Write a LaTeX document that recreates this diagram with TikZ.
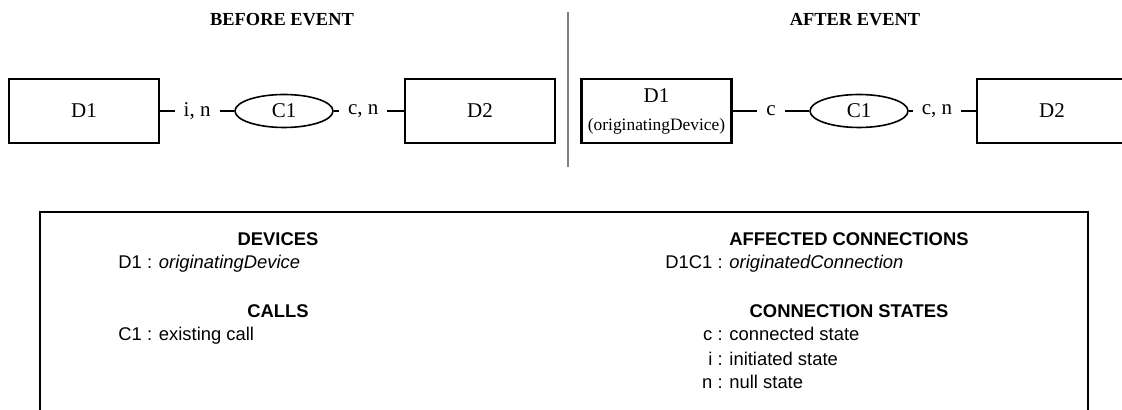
\documentclass[tikz,border=0pt]{standalone}
\usepackage{fontspec}
\setmainfont{Liberation Serif}
\setsansfont{Liberation Sans}
\usetikzlibrary{shapes.geometric, positioning}
\tikzset{
	device/.style={rectangle, draw, line width=1.1pt, align=center, minimum width=75pt, minimum height=32pt, inner sep=0pt, font=\fontsize{10.5}{14}\selectfont},
	call/.style={ellipse, draw, line width=0.8pt, minimum width=49pt, minimum height=16.5pt, inner sep=0pt, font=\fontsize{10.5}{12}\selectfont},
	link/.style={line width=1pt},
	state/.style={fill=white, inner xsep=4.5pt, inner ysep=1pt, font=\fontsize{10.5}{12}\selectfont}
}

\begin{document}
\begin{tikzpicture}[
        x=0.5pt, y=-0.5pt,
        title/.style={font=\bfseries\fontsize{9.2}{11}\selectfont},
        leghead/.style={font=\sffamily\bfseries\fontsize{9.2}{11}\selectfont},
        legtext/.style={font=\sffamily\fontsize{9.2}{11}\selectfont, anchor=base west, inner sep=0pt}
    ]
        \useasboundingbox (0,0) rectangle (1122,410);

        \node[title] (before) at (282,20) {BEFORE EVENT};
        \node[title] (after) at (855,20) {AFTER EVENT};
        \draw[gray, line width=0.75pt] (568,12) -- (568,167);

        \node[device] (bD1) at (84,111) {D1};
        \node[call] (bC1) at (284,111) {C1};
        \node[device] (bD2) at (480,111) {D2};

        \node[device] (aD1) at (656.5,111) {D1\\{\fontsize{8.7}{14}\selectfont (originatingDevice)}};
        \node[call] (aC1) at (859,111) {C1};
        \node[device] (aD2) at (1052,111) {D2};

        \draw[link] (bD1) -- node[state] {i, n} (bC1);
        \draw[link] (bC1) -- node[state, pos=0.42] {c, n} (bD2);
        \draw[link] (aD1) -- node[state] {c} (aC1);
        \draw[link] (aC1) -- node[state, pos=0.42] {c, n} (aD2);

        \draw[line width=1.1pt] (40,430) |- (1088,212) -- (1088,430);

        \node[leghead] (devh) at (278,239) {DEVICES};
        \node[legtext] (dev1) at (118,269) {D1 : \textit{originatingDevice}};
        \node[leghead] (callh) at (278,311) {CALLS};
        \node[legtext] (call1) at (118,341) {C1 : existing call};

        \node[leghead] (connh) at (849,239) {AFFECTED CONNECTIONS};
        \node[legtext] (conn1) at (665,269) {D1C1 : \textit{originatedConnection}};
        \node[leghead] (sth) at (849,311) {CONNECTION STATES};
        \node[legtext] (stc) at (699,341) {\makebox[6.5pt][r]{c} : connected state};
        \node[legtext] (sti) at (699,365) {\makebox[6.5pt][r]{i} : initiated state};
        \node[legtext] (stn) at (699,388) {\makebox[6.5pt][r]{n} : null state};
    \end{tikzpicture}
\end{document}
